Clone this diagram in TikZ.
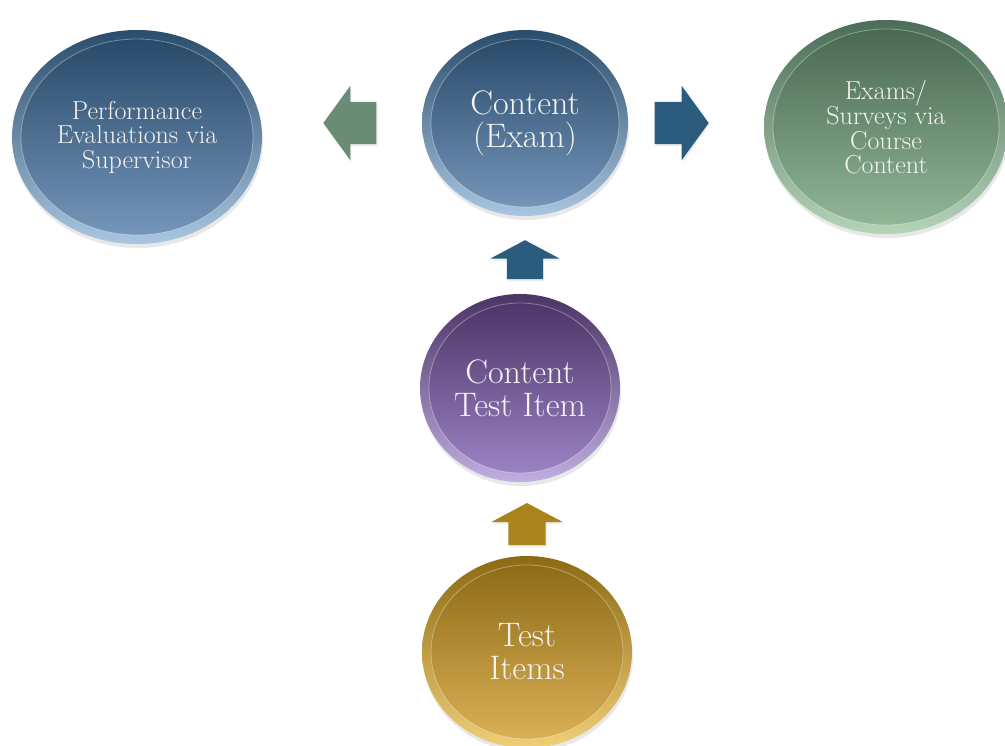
\documentclass[tikz,border=0pt]{standalone}
\usetikzlibrary{shapes.geometric,shapes.arrows,shadows,calc}
\definecolor{bubbletext}{HTML}{F4F4F4}
\definecolor{blueouttop}{HTML}{2B4D6D}
\definecolor{blueoutbot}{HTML}{A9C6E0}
\definecolor{blueintop}{HTML}{264665}
\definecolor{blueinbot}{HTML}{7899BD}
\definecolor{greenouttop}{HTML}{4C6E58}
\definecolor{greenoutbot}{HTML}{B4D4B8}
\definecolor{greenintop}{HTML}{46664F}
\definecolor{greeninbot}{HTML}{93B99A}
\definecolor{purpleouttop}{HTML}{4B3466}
\definecolor{purpleoutbot}{HTML}{C0AEE0}
\definecolor{purpleintop}{HTML}{4A3264}
\definecolor{purpleinbot}{HTML}{9F86C8}
\definecolor{goldouttop}{HTML}{8C6A12}
\definecolor{goldoutbot}{HTML}{F0CF78}
\definecolor{goldintop}{HTML}{8A6814}
\definecolor{goldinbot}{HTML}{DEB358}
\definecolor{arrowgreen}{HTML}{6B8C74}
\definecolor{arrowblue}{HTML}{2B5C7E}
\definecolor{arrowgold}{HTML}{A9841D}
\tikzset{
  bubble/.style n args={4}{ellipse, inner sep=0pt, align=center, text=bubbletext,
    top color=#1, bottom color=#2,
    drop shadow={opacity=0.18, shadow xshift=1pt, shadow yshift=-4pt},
    path picture={
      \shadedraw[top color=#3, bottom color=#4, draw=white, draw opacity=0.35, line width=0.8pt]
        let \p1=(path picture bounding box.north east), \p2=(path picture bounding box.center) in
        (\p2) ellipse [x radius={\x1-\x2-9pt}, y radius={\y1-\y2-9pt}];
    }},
  blockarrow/.style={single arrow, inner xsep=0pt, fill=#1, draw=none,
    drop shadow={opacity=0.15, shadow xshift=1pt, shadow yshift=-2pt}},
  smalltext/.style={font=\fontsize{26}{24.5}\selectfont},
  bigtext/.style={font=\fontsize{34}{33}\selectfont}
}
\begin{document}
\begin{tikzpicture}[x=1pt,y=-1pt]
\useasboundingbox[fill=white] (0,0) rectangle (1005,746);

\node[bubble={blueouttop}{blueoutbot}{blueintop}{blueinbot}, smalltext,
  minimum width=250pt, minimum height=214pt] (perf) at (137,137)
  {Performance\\Evaluations via\\Supervisor};
\node[bubble={blueouttop}{blueoutbot}{blueintop}{blueinbot}, bigtext,
  minimum width=206pt, minimum height=186pt] (exam) at (525,123)
  {Content\\(Exam)};
\node[bubble={greenouttop}{greenoutbot}{greenintop}{greeninbot}, smalltext,
  minimum width=244pt, minimum height=214pt] (survey) at (886,127)
  {Exams/\\Surveys via\\Course\\Content};
\node[bubble={purpleouttop}{purpleoutbot}{purpleintop}{purpleinbot}, bigtext,
  minimum width=200pt, minimum height=188pt] (item) at (520,388)
  {Content\\Test Item};
\node[bubble={goldouttop}{goldoutbot}{goldintop}{goldinbot}, bigtext,
  minimum width=210pt, minimum height=192pt] (tests) at (527,652)
  {Test\\Items};

\node[blockarrow=arrowgreen, rotate=180, single arrow tip angle=108,
  inner ysep=21pt, single arrow head extend=16pt, minimum height=53pt] (toperf) at (357.5,123) {};
\node[blockarrow=arrowblue, single arrow tip angle=108,
  inner ysep=21pt, single arrow head extend=16pt, minimum height=54pt] (tosurvey) at (674,123) {};
\node[blockarrow=arrowblue, rotate=90, single arrow tip angle=124,
  inner ysep=18pt, single arrow head extend=16.5pt, minimum height=39pt] (toexam) at (525,264.5) {};
\node[blockarrow=arrowgold, rotate=90, single arrow tip angle=124,
  inner ysep=18.5pt, single arrow head extend=17pt, minimum height=42pt] (toitem) at (527,529) {};
\end{tikzpicture}
\end{document}
